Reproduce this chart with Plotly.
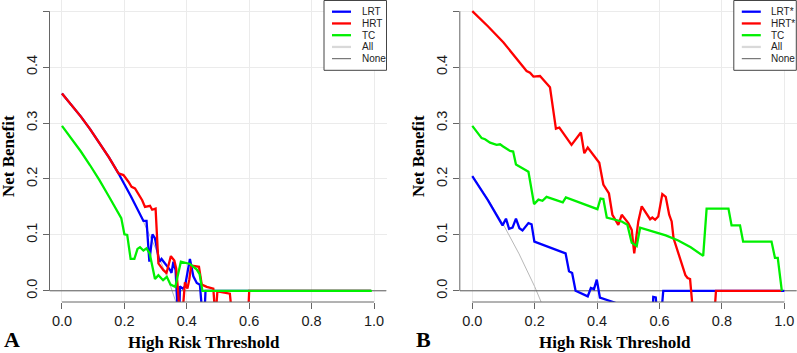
import plotly.graph_objects as go

# ---------------- data ----------------
TICKS_X = [0.0, 0.2, 0.4, 0.6, 0.8, 1.0]
TICKS_X_TEXT = ["0.0", "0.2", "0.4", "0.6", "0.8", "1.0"]
TICKS_Y = [0.0, 0.1, 0.2, 0.3, 0.4, 0.5]
TICKS_Y_TEXT = ["0.0", "0.1", "0.2", "0.3", "0.4", "0.5"]

# Panel A
A_LRT_X = [0, 0.03, 0.06, 0.09, 0.12, 0.15, 0.18, 0.22, 0.261, 0.271, 0.280, 0.290, 0.298, 0.306,
           0.312, 0.319, 0.335, 0.346, 0.351, 0.357, 0.364, 0.372, 0.376, 0.378, 0.387, 0.394,
           0.410, 0.421, 0.432, 0.442, 0.451, 0.456, 0.460, 0.99]
A_LRT_Y = [0.353, 0.333, 0.312, 0.289, 0.265, 0.239, 0.211, 0.170, 0.125, 0.125, 0.052, 0.101, 0.094, 0.067,
           0.052, 0.057, 0.046, 0.0375, 0.032, 0.052, 0.0375, -0.05, -0.05, 0.008, 0.004, 0.0075,
           0.057, 0.026, 0.014, 0.011, -0.05, -0.05, 0.0, 0.0]

A_HRT_X = [0, 0.03, 0.06, 0.09, 0.12, 0.15, 0.181, 0.197, 0.213, 0.223, 0.234, 0.245, 0.257, 0.266,
           0.282, 0.289, 0.300, 0.309, 0.325, 0.335, 0.349, 0.360, 0.366, 0.372, 0.378, 0.385,
           0.394, 0.402, 0.408, 0.414, 0.439, 0.448, 0.464, 0.485, 0.489, 0.492, 0.498, 0.528,
           0.538, 0.546, 0.596, 0.600, 0.99]
A_HRT_Y = [0.353, 0.333, 0.312, 0.289, 0.265, 0.239, 0.210, 0.207, 0.195, 0.186, 0.183, 0.174, 0.162, 0.150,
           0.152, 0.145, 0.147, 0.049, 0.037, 0.032, 0.062, 0.054, 0.040, 0.0, -0.05, -0.05,
           0.015, 0.004, 0.020, 0.045, 0.043, 0.011, 0.007, 0.004, -0.05, -0.05, -0.001, -0.003,
           -0.005, -0.05, -0.05, 0.0, 0.0]

A_TC_X = [0, 0.03, 0.06, 0.09, 0.12, 0.15, 0.19, 0.20, 0.209, 0.220, 0.232, 0.242, 0.250, 0.261,
          0.271, 0.281, 0.298, 0.309, 0.324, 0.336, 0.348, 0.363, 0.381, 0.410, 0.432, 0.441,
          0.450, 0.993]
A_TC_Y = [0.295, 0.273, 0.2495, 0.2245, 0.198, 0.169, 0.130, 0.101, 0.100, 0.057, 0.057, 0.075, 0.078, 0.072,
          0.076, 0.067, 0.021, 0.028, 0.019, 0.025, 0.011, 0.007, 0.052, 0.048, 0.038, 0.030,
          0.0, 0.0]

A_ALL_X = [0, 0.05, 0.1, 0.15, 0.2, 0.25, 0.3, 0.35, 0.4]
A_ALL_Y = [0.353, 0.319, 0.281, 0.239, 0.191, 0.137, 0.076, 0.005, -0.078]

# Panel B
B_LRT_X = [0, 0.05, 0.097, 0.108, 0.118, 0.129, 0.140, 0.151, 0.161, 0.180, 0.190, 0.199, 0.299,
           0.310, 0.320, 0.331, 0.370, 0.380, 0.390, 0.399, 0.409, 0.457, 0.470, 0.578, 0.580,
           0.588, 0.592, 0.606, 0.612, 1.0]
B_LRT_Y = [0.205, 0.162, 0.117, 0.129, 0.111, 0.113, 0.129, 0.112, 0.108, 0.121, 0.119, 0.088, 0.067,
           0.035, 0.032, 0.0, -0.010, 0.005, 0.003, 0.020, -0.012, -0.021, -0.04, -0.04, -0.011,
           -0.012, -0.04, -0.04, 0.0, 0.0]

B_HRT_X = [0, 0.05, 0.1, 0.15, 0.174, 0.185, 0.196, 0.217, 0.249, 0.268, 0.279, 0.318, 0.348, 0.359,
           0.370, 0.407, 0.420, 0.438, 0.449, 0.468, 0.479, 0.500, 0.511, 0.519, 0.527, 0.532,
           0.543, 0.570, 0.577, 0.586, 0.596, 0.609, 0.620, 0.631, 0.639, 0.645, 0.683, 0.690,
           0.698, 0.706, 0.715, 0.775, 0.781, 0.99]
B_HRT_Y = [0.5, 0.473, 0.444, 0.410, 0.393, 0.390, 0.383, 0.384, 0.364, 0.290, 0.292, 0.261, 0.283, 0.246,
           0.256, 0.229, 0.190, 0.174, 0.136, 0.118, 0.136, 0.121, 0.109, 0.067, 0.103, 0.124,
           0.151, 0.128, 0.131, 0.127, 0.133, 0.173, 0.168, 0.136, 0.124, 0.094, 0.028, 0.023,
           0.021, -0.03, -0.05, -0.05, 0.0, 0.0]

B_TC_X = [0, 0.030, 0.041, 0.057, 0.078, 0.089, 0.099, 0.121, 0.131, 0.140, 0.180, 0.198, 0.212,
          0.225, 0.238, 0.290, 0.300, 0.401, 0.411, 0.420, 0.431, 0.479, 0.497, 0.511, 0.527,
          0.538, 0.58, 0.62, 0.66, 0.70, 0.740, 0.751, 0.821, 0.831, 0.858, 0.868, 0.959, 0.970,
          0.979, 0.992]
B_TC_Y = [0.295, 0.273, 0.271, 0.265, 0.261, 0.262, 0.258, 0.250, 0.249, 0.226, 0.213, 0.155, 0.163,
          0.161, 0.168, 0.158, 0.167, 0.146, 0.165, 0.164, 0.131, 0.124, 0.118, 0.086, 0.080,
          0.113, 0.106, 0.099, 0.090, 0.078, 0.0625, 0.147, 0.147, 0.117, 0.117, 0.088, 0.088, 0.059,
          0.059, 0.0]

B_ALL_X = [0, 0.05, 0.1, 0.15, 0.2, 0.25]
B_ALL_Y = [0.206, 0.164, 0.118, 0.066, 0.0075, -0.059]

NONE_X = [-0.04, 1.04]
NONE_Y = [0.0, 0.0]

A_NAMES = ["LRT", "HRT", "TC", "All", "None"]
B_NAMES = ["LRT*", "HRT*", "TC", "All", "None"]

# ---------------- styles ----------------
C_LRT, C_HRT, C_TC = "#0000FF", "#FF0000", "#00F000"
C_ALL_PLOT, C_ALL_LEG, C_NONE = "#b8b8b8", "#d9d9d9", "#5a5a5a"
LW = 2.3
W, H = 797, 353


def fx(p):
    return p / W


def fy(p):
    return 1 - p / H


PANELS = [
    dict(xdom=(49.5, 386.5), names=A_NAMES,
         series=[(A_ALL_X, A_ALL_Y, C_ALL_PLOT, 1.0), (NONE_X, NONE_Y, C_NONE, 1.0),
                 (A_LRT_X, A_LRT_Y, C_LRT, LW), (A_HRT_X, A_HRT_Y, C_HRT, LW),
                 (A_TC_X, A_TC_Y, C_TC, LW)],
         label="A", label_x=12, xtitle_x=204, ytitle_x=8),
    dict(xdom=(459.8, 796.8), names=B_NAMES,
         series=[(B_ALL_X, B_ALL_Y, C_ALL_PLOT, 1.0), (NONE_X, NONE_Y, C_NONE, 1.0),
                 (B_LRT_X, B_LRT_Y, C_LRT, LW), (B_HRT_X, B_HRT_Y, C_HRT, LW),
                 (B_TC_X, B_TC_Y, C_TC, LW)],
         label="B", label_x=423.5, xtitle_x=615, ytitle_x=418),
]

fig = go.Figure()
shapes, annotations = [], []
TOP, BOTTOM = 0.0, 302.0
tickfont = dict(family="Liberation Sans", size=14.5, color="#1a1a1a")
serif_bold = dict(family="Liberation Serif", size=17, color="#000000", weight="bold")

for i, pn in enumerate(PANELS):
    ax = "" if i == 0 else str(i + 1)
    xref, yref = "x" + ax, "y" + ax
    for sx, sy, col, w in pn["series"]:
        fig.add_trace(go.Scatter(x=sx, y=sy, mode="lines", xaxis=xref, yaxis=yref,
                                 line=dict(color=col, width=w), showlegend=False,
                                 hoverinfo="skip"))
    axis_common = dict(showgrid=True, gridcolor="#ebebeb", gridwidth=1, zeroline=False,
                       showline=False, ticks="outside", ticklen=6, tickcolor="#666666",
                       tickwidth=1, tickfont=tickfont, automargin=False)
    fig.update_layout({
        "xaxis" + ax: dict(domain=[fx(pn["xdom"][0]), fx(pn["xdom"][1])], range=[-0.04, 1.04],
                           tickvals=TICKS_X, ticktext=TICKS_X_TEXT, anchor=yref, **axis_common),
        "yaxis" + ax: dict(domain=[fy(BOTTOM), fy(TOP)], range=[-0.02, 0.52], tickvals=TICKS_Y,
                           ticktext=TICKS_Y_TEXT, tickangle=-90, anchor=xref, **axis_common),
    })
    # R-style axis lines spanning the tick range
    shapes.append(dict(type="line", xref=xref, yref=yref + " domain", x0=TICKS_X[0], x1=TICKS_X[-1],
                       y0=0, y1=0, line=dict(color="#666666", width=1)))
    shapes.append(dict(type="line", xref=xref + " domain", yref=yref, x0=0, x1=0,
                       y0=TICKS_Y[0], y1=TICKS_Y[-1], line=dict(color="#666666", width=1)))
    # legend box (top right of plot region)
    right = min(pn["xdom"][1], 796.3)
    left = right - 62.5
    shapes.append(dict(type="rect", xref="paper", yref="paper", x0=fx(left), x1=fx(right),
                       y0=fy(70.3), y1=fy(0.5), line=dict(color="#444444", width=1),
                       fillcolor="white", layer="above"))
    leg_cols = [(C_LRT, LW), (C_HRT, LW), (C_TC, LW), (C_ALL_LEG, LW), (C_NONE, 1.0)]
    for k, (nm, (col, w)) in enumerate(zip(pn["names"], leg_cols)):
        yy = 11.7 + k * 11.75
        shapes.append(dict(type="line", xref="paper", yref="paper", x0=fx(left + 8), x1=fx(left + 27),
                           y0=fy(yy), y1=fy(yy), line=dict(color=col, width=w), layer="above"))
        annotations.append(dict(text=nm, xref="paper", yref="paper", x=fx(left + 35.5), y=fy(yy),
                                xanchor="left", yanchor="middle", showarrow=False,
                                font=dict(family="Liberation Sans", size=10, color="#222222")))
    annotations.append(dict(text="High Risk Threshold", xref="paper", yref="paper",
                            x=fx(pn["xtitle_x"]), y=fy(342), xanchor="center", yanchor="middle",
                            showarrow=False, font=serif_bold))
    annotations.append(dict(text="Net Benefit", xref="paper", yref="paper", textangle=-90,
                            x=fx(pn["ytitle_x"]), y=fy(156), xanchor="center", yanchor="middle",
                            showarrow=False, font=serif_bold, borderpad=0))
    annotations.append(dict(text=pn["label"], xref="paper", yref="paper",
                            x=fx(pn["label_x"]), y=0, xanchor="center", yanchor="bottom",
                            showarrow=False, borderpad=0,
                            font=dict(family="Liberation Serif", size=22, color="#000000",
                                      weight="bold")))

fig.update_layout(width=W, height=H, margin=dict(l=0, r=0, t=0, b=0),
                  paper_bgcolor="white", plot_bgcolor="white", showlegend=False,
                  shapes=shapes, annotations=annotations)

fig.write_html("out.html", config={"displayModeBar": False},
               post_script="document.body.style.margin='0';document.body.style.overflow='hidden';")
